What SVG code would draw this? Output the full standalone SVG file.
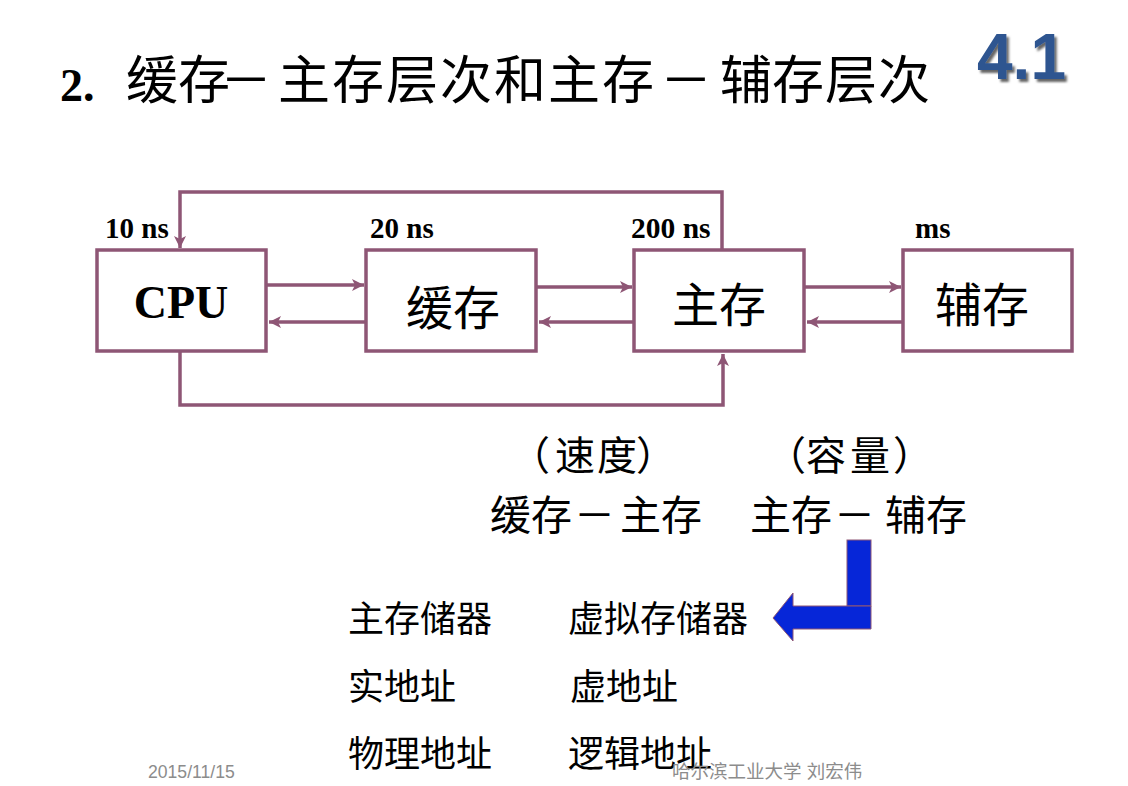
<svg xmlns="http://www.w3.org/2000/svg" width="1128" height="786" viewBox="0 0 1128 786">
<style>
.cjk{font-family:"Noto Sans CJK SC","Noto Sans",sans-serif;fill:#000}
.tm{font-family:"Liberation Serif",serif;font-weight:bold;fill:#000}
.box{fill:#fff;stroke:#8E5675;stroke-width:3.5}
.con{fill:none;stroke:#8E5675;stroke-width:3.5}
.foot{font-family:"Liberation Sans","Noto Sans CJK SC",sans-serif;fill:#8c8c8c}
</style>
<defs>
<marker id="ah" markerUnits="userSpaceOnUse" markerWidth="14" markerHeight="14" refX="12" refY="6" orient="auto">
<path d="M0,0 L12,6 L0,12 L3,6 z" fill="#8E5675"/>
</marker>
<filter id="sh" x="-10%" y="-10%" width="130%" height="140%">
<feDropShadow dx="2.5" dy="3" stdDeviation="1" flood-color="#000" flood-opacity="0.6"/>
</filter>
</defs>
<rect width="1128" height="786" fill="#fff"/>
<g id="title">
<text class="tm" x="60" y="101" font-size="46">2.</text>
<text class="cjk" y="99" font-size="52" x="126 178 220 278 332 386 440 494 548 602 660 720 772 825 878">缓存－主存层次和主存－辅存层次</text>
</g>
<g id="badge">
<text x="977" y="79" font-family="Liberation Sans,sans-serif" font-weight="bold" font-size="64" fill="#2F5590" filter="url(#sh)">4.1</text>
</g>
<g id="connectors">
<line class="con" x1="267" y1="285" x2="364" y2="285" marker-end="url(#ah)"/>
<line class="con" x1="366" y1="322" x2="269" y2="322" marker-end="url(#ah)"/>
<line class="con" x1="537" y1="287" x2="632" y2="287" marker-end="url(#ah)"/>
<line class="con" x1="634" y1="322" x2="539" y2="322" marker-end="url(#ah)"/>
<line class="con" x1="805" y1="287" x2="901" y2="287" marker-end="url(#ah)"/>
<line class="con" x1="903" y1="322" x2="807" y2="322" marker-end="url(#ah)"/>
<path class="con" d="M722,250 L722,192 L180,192 L180,248" marker-end="url(#ah)"/>
<path class="con" d="M180,352 L180,405 L723,405 L723,354" marker-end="url(#ah)"/>
</g>
<g id="cpu">
<rect class="box" x="97" y="250" width="169" height="101"/>
<text class="tm" x="181" y="318" font-size="46" text-anchor="middle">CPU</text>
<text class="tm" x="105" y="238" font-size="29">10 ns</text>
</g>
<g id="cache">
<rect class="box" x="366" y="250" width="170" height="101"/>
<text class="cjk" x="453" y="325" font-size="47" text-anchor="middle">缓存</text>
<text class="tm" x="370" y="238" font-size="29">20 ns</text>
</g>
<g id="main">
<rect class="box" x="634" y="250" width="170" height="101"/>
<text class="cjk" x="719" y="322" font-size="47" text-anchor="middle">主存</text>
<text class="tm" x="631" y="238" font-size="29.5">200 ns</text>
</g>
<g id="aux">
<rect class="box" x="903" y="250" width="169" height="101"/>
<text class="cjk" x="982" y="322" font-size="47" text-anchor="middle">辅存</text>
<text class="tm" x="915" y="238" font-size="29">ms</text>
</g>
<g id="levels">
<text class="cjk" y="470" font-size="40" x="510 555 597 636">（速度）</text>
<text class="cjk" y="470" font-size="40" x="766 806 850 893">（容量）</text>
<text class="cjk" y="530" font-size="41" x="490 531 574 620 661">缓存－主存</text>
<text class="cjk" y="530" font-size="41" x="750 791 834 885 926">主存－辅存</text>
</g>
<g id="bluearrow">
<rect x="847" y="540" width="24" height="66" fill="#0626D8" stroke="#8E5675" stroke-width="1"/>
<path d="M871,606 L871,629 L793,629 L793,641 L773,618 L793,593 L793,606 Z" fill="#0626D8" stroke="#8E5675" stroke-width="1"/>
</g>
<g id="terms">
<text class="cjk" x="348" y="632" font-size="36">主存储器</text>
<text class="cjk" x="568" y="632" font-size="36">虚拟存储器</text>
<text class="cjk" x="348" y="700" font-size="36">实地址</text>
<text class="cjk" x="570" y="700" font-size="36">虚地址</text>
<text class="cjk" x="348" y="767" font-size="36">物理地址</text>
<text class="cjk" x="568" y="767" font-size="36">逻辑地址</text>
</g>
<g id="footer">
<text class="foot" x="148" y="778" font-size="17.6">2015/11/15</text>
<text class="foot" x="672" y="778" font-size="18.5">哈尔滨工业大学  刘宏伟</text>
</g>
</svg>
